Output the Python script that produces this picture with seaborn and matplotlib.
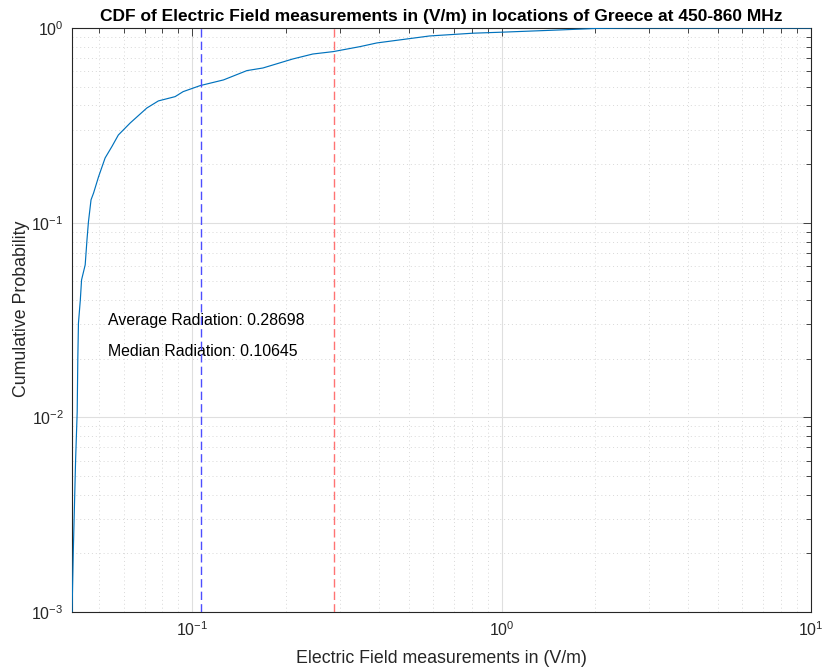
import numpy as np
import pandas as pd
import matplotlib
matplotlib.use("Agg")
import matplotlib.pyplot as plt
import seaborn as sns
from matplotlib.ticker import LogLocator, NullFormatter

# ---- data ----
field_vm = [0.0408, 0.0412, 0.0419, 0.0424, 0.0426, 0.0428, 0.0434, 0.0438,
            0.0450, 0.0456, 0.0461, 0.0470, 0.0479, 0.0497, 0.0522, 0.0549,
            0.0576, 0.0629, 0.0712, 0.0776, 0.0879, 0.0933, 0.106, 0.126,
            0.150, 0.169, 0.211, 0.245, 0.285, 0.348, 0.395, 0.585, 0.806,
            1.01, 1.54, 2.03, 2.59, 10.0]
cdf_prob = [0.0010, 0.00208, 0.00604, 0.0107, 0.0202, 0.0305, 0.0401, 0.0508,
            0.0607, 0.0815, 0.1008, 0.131, 0.142, 0.172, 0.215, 0.246,
            0.282, 0.325, 0.388, 0.422, 0.444, 0.471, 0.506, 0.541,
            0.604, 0.623, 0.693, 0.735, 0.756, 0.802, 0.838, 0.910, 0.940,
            0.952, 0.977, 0.995, 1.0, 1.0]
average_radiation = 0.28698
median_radiation = 0.10645
title_text = "CDF of Electric Field measurements in (V/m) in locations of Greece at 450-860 MHz"
x_label = "Electric Field measurements in (V/m)"
y_label = "Cumulative Probability"

sns.set_style("white")
plt.rcParams["font.family"] = ["Liberation Sans", "DejaVu Sans"]
plt.rcParams["mathtext.fontset"] = "custom"
plt.rcParams["mathtext.rm"] = "Liberation Sans"
plt.rcParams["mathtext.it"] = "Liberation Sans:italic"
plt.rcParams["mathtext.bf"] = "Liberation Sans:bold"
plt.rcParams["axes.unicode_minus"] = False

df = pd.DataFrame({"x": field_vm, "y": cdf_prob})

fig = plt.figure(figsize=(8.26, 6.71), dpi=100)
ax = fig.add_axes([0.0872, 0.0879, 0.8946, 0.8704])

ax.set_xscale("log")
ax.set_yscale("log")

sns.lineplot(data=df, x="x", y="y", estimator=None, sort=False, ax=ax,
             color="#0072BD", linewidth=0.85, zorder=3)

ax.axvline(median_radiation, color="#4D4DFF", linestyle=(0, (6, 3)),
           linewidth=1.0, zorder=4)
ax.axvline(average_radiation, color="#FF7373", linestyle=(0, (6, 3)),
           linewidth=1.0, zorder=4)

ax.text(0.0534, 0.0313, f"Average Radiation: {average_radiation:.5f}",
        fontsize=11.4, color="black", va="center", ha="left")
ax.text(0.0534, 0.0219, f"Median Radiation: {median_radiation:.5f}",
        fontsize=11.4, color="black", va="center", ha="left")

ax.set_xlim(0.0408, 10)
ax.set_ylim(1e-3, 1)

ax.xaxis.set_major_locator(LogLocator(base=10, numticks=10))
ax.yaxis.set_major_locator(LogLocator(base=10, numticks=10))
ax.xaxis.set_minor_locator(LogLocator(base=10, subs=np.arange(2, 10), numticks=20))
ax.yaxis.set_minor_locator(LogLocator(base=10, subs=np.arange(2, 10), numticks=20))
ax.xaxis.set_minor_formatter(NullFormatter())
ax.yaxis.set_minor_formatter(NullFormatter())

ax.grid(True, which="major", color="#DFDFDF", linewidth=0.8, linestyle="-")
ax.grid(True, which="minor", color="#D8D8D8", linewidth=0.7, linestyle=(0, (1, 3)))
ax.set_axisbelow(True)

axis_col = "#262626"
for sp in ax.spines.values():
    sp.set_color(axis_col)
    sp.set_linewidth(0.8)
    sp.set_visible(True)
ax.tick_params(which="both", direction="in", top=True, right=True,
               colors=axis_col, labelcolor=axis_col, width=0.6)
ax.tick_params(which="major", length=6, labelsize=11.5, pad=6)
ax.tick_params(which="minor", length=3.5)

ax.set_xlabel(x_label, fontsize=12.8, color=axis_col, labelpad=8)
ax.set_ylabel(y_label, fontsize=12.8, color=axis_col)
ax.yaxis.set_label_coords(-0.057, 0.52)
ax.set_title(title_text, fontsize=12.5, fontweight="bold", color="black", pad=5)

fig.savefig("out.png", dpi=100, facecolor="white")
